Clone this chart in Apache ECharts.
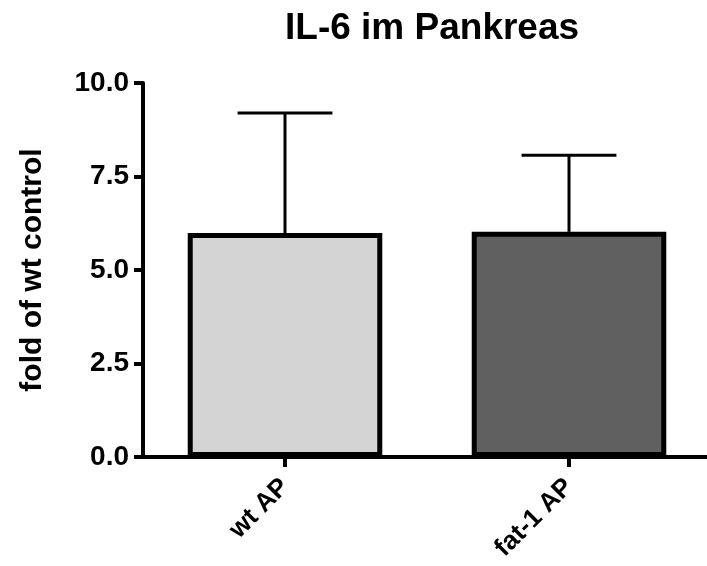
<!DOCTYPE html>
<html>
<head>
<meta charset="utf-8">
<script src="https://cdn.jsdelivr.net/npm/echarts@6/dist/echarts.min.js"></script>
<style>html,body{margin:0;padding:0;background:#fff;overflow:hidden}#c{width:711px;height:566px}</style>
</head>
<body>
<div id="c"></div>
<script>
const categories = ['wt AP', 'fat-1 AP'];
const means = [5.99, 6.02];
const errors = [3.21, 2.05];
const barColors = ['#d4d4d4', '#606060'];
const yTicks = { min: 0, max: 10, interval: 2.5 };

const FONT = '"Liberation Sans", Arial, Helvetica, sans-serif';
const chart = echarts.init(document.getElementById('c'), null, { renderer: 'canvas' });

const option = {
  animation: false,
  backgroundColor: '#ffffff',
  title: {
    text: 'IL-6 im Pankreas',
    left: 280, top: 5,
    textStyle: { fontFamily: FONT, fontWeight: 'bold', fontSize: 37, color: '#000' }
  },
  grid: { left: 143, right: 0, top: 83, bottom: 109, containLabel: false },
  xAxis: {
    type: 'category',
    data: categories,
    axisLine: { lineStyle: { color: '#000', width: 4 } },
    axisTick: { show: true, alignWithLabel: true, length: 10, lineStyle: { color: '#000', width: 4 } },
    axisLabel: { rotate: 45, margin: 26, fontFamily: FONT, fontWeight: 'bold', fontSize: 26, color: '#000' },
    splitLine: { show: false }
  },
  yAxis: {
    type: 'value',
    min: yTicks.min, max: yTicks.max, interval: yTicks.interval,
    name: 'fold of wt control',
    nameLocation: 'middle',
    nameRotate: 90,
    nameGap: 95,
    nameTextStyle: { fontFamily: FONT, fontWeight: 'bold', fontSize: 30, color: '#000' },
    axisLine: { show: true, lineStyle: { color: '#000', width: 4 } },
    axisTick: { show: true, length: 9, lineStyle: { color: '#000', width: 4 } },
    axisLabel: { margin: 14, fontFamily: FONT, fontWeight: 'bold', fontSize: 28, color: '#000',
      formatter: v => v.toFixed(1) },
    splitLine: { show: false }
  },
  series: [
    {
      type: 'custom',
      z: 1,
      data: categories.map((c, i) => [i, means[i], means[i] + errors[i]]),
      renderItem: function (params, api) {
        const i = api.value(0);
        const base = api.coord([i, api.value(1)]);
        const top = api.coord([i, api.value(2)]);
        const band = api.size([1, 0])[0];
        const half = band * 0.167;
        return {
          type: 'group',
          children: [
            { type: 'line', shape: { x1: base[0], y1: base[1], x2: top[0], y2: top[1] },
              style: { stroke: '#000', lineWidth: 3 } },
            { type: 'line', shape: { x1: top[0] - half, y1: top[1], x2: top[0] + half, y2: top[1] },
              style: { stroke: '#000', lineWidth: 3 } }
          ]
        };
      }
    },
    {
      type: 'bar',
      z: 2,
      barWidth: '68.5%',
      data: means.map((v, i) => ({ value: v, itemStyle: { color: barColors[i] } })),
      itemStyle: { borderColor: '#000', borderWidth: 5 }
    }
  ]
};
chart.setOption(option);
</script>
</body>
</html>
